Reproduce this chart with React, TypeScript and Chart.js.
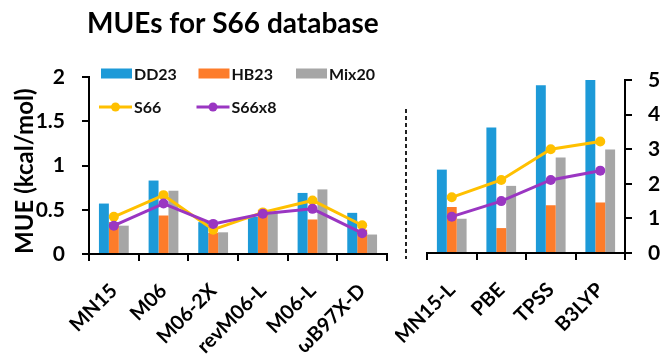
import React, { useEffect, useRef } from "react";
import { Chart, registerables } from "chart.js";

Chart.register(...registerables);

// Functionals shown in each panel
const hybridFunctionals = ["MN15", "M06", "M06-2X", "revM06-L", "M06-L", "ωB97X-D"];
const localFunctionals = ["MN15-L", "PBE", "TPSS", "B3LYP"];

const seriesNames = ["DD23", "HB23", "Mix20", "S66", "S66x8"];

// Left panel MUEs (kcal/mol)
const dd23Left = [0.57, 0.83, 0.36, 0.42, 0.69, 0.465];
const hb23Left = [0.36, 0.435, 0.24, 0.5, 0.39, 0.275];
const mix20Left = [0.32, 0.715, 0.245, 0.465, 0.73, 0.22];
const s66Left = [0.42, 0.665, 0.275, 0.47, 0.605, 0.325];
const s66x8Left = [0.32, 0.57, 0.34, 0.455, 0.51, 0.235];

// Right panel MUEs (kcal/mol)
const dd23Right = [2.41, 3.63, 4.85, 5.0];
const hb23Right = [1.33, 0.72, 1.38, 1.46];
const mix20Right = [0.99, 1.94, 2.76, 2.99];
const s66Right = [1.61, 2.11, 3.0, 3.22];
const s66x8Right = [1.05, 1.5, 2.11, 2.38];

const leftTicks = [0, 0.5, 1, 1.5, 2];
const rightTicks = [0, 1, 2, 3, 4, 5];

const BLUE = "#1D9AD8";
const ORANGE = "#FD7C2A";
const GREY = "#A6A6A6";
const YELLOW = "#FFC000";
const PURPLE = "#9A36C2";

const FAMILY = "Lato, 'Open Sans', 'DejaVu Sans', sans-serif";

function buildDatasets(dd: number[], hb: number[], mix: number[], s66: number[], s66x8: number[]) {
  const bar = (label: string, data: number[], color: string) => ({
    type: "bar" as const,
    label,
    data,
    backgroundColor: color,
    borderWidth: 0,
    barPercentage: 1,
    categoryPercentage: 0.6,
    order: 2,
  });
  const line = (label: string, data: number[], color: string, order: number) => ({
    type: "line" as const,
    label,
    data,
    borderColor: color,
    backgroundColor: color,
    borderWidth: 3,
    pointRadius: 5,
    pointBorderWidth: 0,
    pointBackgroundColor: color,
    tension: 0,
    order,
  });
  return [
    bar(seriesNames[0], dd, BLUE),
    bar(seriesNames[1], hb, ORANGE),
    bar(seriesNames[2], mix, GREY),
    line(seriesNames[3], s66, YELLOW, 1),
    line(seriesNames[4], s66x8, PURPLE, 0),
  ];
}

// Heading text of the figure
const headingPlugin = {
  id: "heading",
  afterDraw(chart: any) {
    const ctx = chart.ctx;
    ctx.save();
    ctx.font = `bold 28px ${FAMILY}`;
    ctx.fillStyle = "#000";
    ctx.textAlign = "left";
    ctx.textBaseline = "alphabetic";
    ctx.fillText("MUEs for S66 database", 87, 33);
    ctx.restore();
  },
};

// Two-row legend placed inside the left plot area
const panelLegendPlugin = {
  id: "panelLegend",
  afterDraw(chart: any) {
    const ctx = chart.ctx;
    const x0 = 99;
    const colW = 97.5;
    const rowY = [73.5, 107];
    ctx.save();
    ctx.font = `bold 16px ${FAMILY}`;
    ctx.textBaseline = "middle";
    ctx.textAlign = "left";
    let barCol = 0;
    let lineCol = 0;
    chart.data.datasets.forEach((ds: any) => {
      const isBar = ds.type === "bar";
      const col = isBar ? barCol++ : lineCol++;
      const x = x0 + col * colW;
      const y = isBar ? rowY[0] : rowY[1];
      if (isBar) {
        ctx.fillStyle = ds.backgroundColor;
        ctx.fillRect(x + 2, y - 5, 31, 10);
      } else {
        ctx.strokeStyle = ds.borderColor;
        ctx.lineWidth = 3;
        ctx.beginPath();
        ctx.moveTo(x, y);
        ctx.lineTo(x + 33, y);
        ctx.stroke();
        ctx.fillStyle = ds.borderColor;
        ctx.beginPath();
        ctx.arc(x + 16.5, y, 4.5, 0, Math.PI * 2);
        ctx.fill();
      }
      ctx.fillStyle = "#111";
      ctx.fillText(ds.label, x + 35, y + 1);
    });
    ctx.restore();
  },
};

// Dashed separator between the two panels
const separatorPlugin = {
  id: "separator",
  afterDraw(chart: any) {
    const ctx = chart.ctx;
    ctx.save();
    ctx.strokeStyle = "#222";
    ctx.lineWidth = 2;
    ctx.setLineDash([4, 3]);
    ctx.beginPath();
    ctx.moveTo(11, 109);
    ctx.lineTo(11, 259);
    ctx.stroke();
    ctx.restore();
  },
};

function xScale(height: number) {
  return {
    type: "category" as const,
    offset: true,
    grid: {
      display: true,
      drawOnChartArea: false,
      drawTicks: true,
      tickLength: 7,
      color: "#000",
      lineWidth: 2,
      offset: true,
    },
    border: { display: true, color: "#000", width: 2 },
    ticks: {
      color: "#000",
      font: { family: FAMILY, size: 20, weight: "bold" as const },
      minRotation: 45,
      maxRotation: 45,
      autoSkip: false,
      padding: 18,
    },
    afterFit: (s: any) => {
      s.height = height;
      s.paddingLeft = 0;
      s.paddingRight = 0;
    },
  };
}

function yScale(position: "left" | "right", ticks: number[], width: number, fontSize: number, pad: number) {
  return {
    type: "linear" as const,
    position,
    min: ticks[0],
    max: ticks[ticks.length - 1],
    grid: {
      display: true,
      drawOnChartArea: false,
      drawTicks: true,
      tickLength: 7,
      color: "#000",
      lineWidth: 2,
    },
    border: { display: true, color: "#000", width: 2 },
    ticks: {
      color: "#000",
      font: { family: FAMILY, size: fontSize, weight: "bold" as const },
      padding: pad,
      callback: (v: number | string) => String(v),
    },
    afterBuildTicks: (s: any) => {
      s.ticks = ticks.map((value) => ({ value }));
    },
    afterFit: (s: any) => {
      s.width = width;
      s.paddingTop = 0;
      s.paddingBottom = 0;
    },
  };
}

export default function App() {
  const leftRef = useRef<HTMLCanvasElement>(null);
  const rightRef = useRef<HTMLCanvasElement>(null);

  useEffect(() => {
    document.body.style.margin = "0";
    const leftY: any = yScale("left", leftTicks, 89, 21, 17);
    leftY.title = {
      display: true,
      text: "MUE (kcal/mol)",
      align: "start",
      color: "#000",
      font: { family: FAMILY, size: 24, weight: "bold" },
      padding: { top: 11, bottom: 0 },
    };

    const left = new Chart(leftRef.current!, {
      type: "bar",
      data: {
        labels: hybridFunctionals,
        datasets: buildDatasets(dd23Left, hb23Left, mix20Left, s66Left, s66x8Left) as any,
      },
      options: {
        animation: false,
        responsive: false,
        maintainAspectRatio: false,
        layout: { padding: { top: 77, left: 0, right: 13, bottom: 0 } },
        plugins: { legend: { display: false }, tooltip: { enabled: false }, title: { display: false } },
        scales: { x: xScale(100) as any, y: leftY },
      },
      plugins: [headingPlugin, panelLegendPlugin],
    });

    const right = new Chart(rightRef.current!, {
      type: "bar",
      data: {
        labels: localFunctionals,
        datasets: buildDatasets(dd23Right, hb23Right, mix20Right, s66Right, s66x8Right) as any,
      },
      options: {
        animation: false,
        responsive: false,
        maintainAspectRatio: false,
        layout: { padding: { top: 80, left: 32, right: 0, bottom: 0 } },
        plugins: { legend: { display: false }, tooltip: { enabled: false }, title: { display: false } },
        scales: {
          x: xScale(101) as any,
          y: yScale("right", rightTicks, 42, 21, 16) as any,
        },
      },
      plugins: [separatorPlugin],
    });

    return () => {
      left.destroy();
      right.destroy();
    };
  }, []);

  return (
    <div style={{ position: "relative", width: 667, height: 354, background: "#fff" }}>
      <canvas
        ref={leftRef}
        width={400}
        height={354}
        style={{ position: "absolute", left: 0, top: 0, display: "block" }}
      />
      <canvas
        ref={rightRef}
        width={272}
        height={354}
        style={{ position: "absolute", left: 395, top: 0, display: "block" }}
      />
    </div>
  );
}
